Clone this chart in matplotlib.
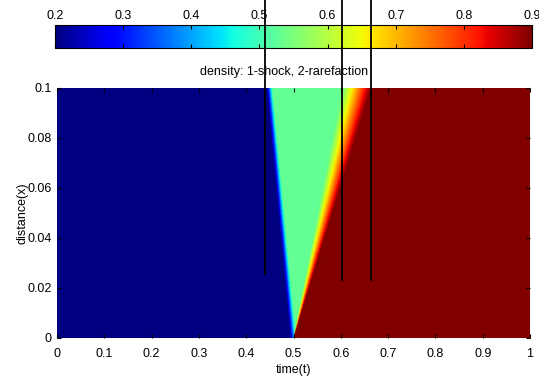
import numpy as np
import matplotlib
matplotlib.use("Agg")
import matplotlib.pyplot as plt
from matplotlib.lines import Line2D

plt.rcParams['font.family'] = ['Liberation Sans', 'DejaVu Sans']
plt.rcParams['font.size'] = 9

# states and wave speeds
rho_left = 0.2
rho_mid = 0.53
rho_right = 0.9
t_origin = 0.5
shock_slope = -0.5      # dt/dx of the 1-shock
fan_head_slope = 1.03   # dt/dx of the rarefaction head
fan_tail_slope = 1.65   # dt/dx of the rarefaction tail
shock_smear = 0.012

x_ticks = [0, 0.1, 0.2, 0.3, 0.4, 0.5, 0.6, 0.7, 0.8, 0.9, 1]
x_ticklabels = ['0', '0.1', '0.2', '0.3', '0.4', '0.5', '0.6', '0.7', '0.8', '0.9', '1']
y_ticks = [0, 0.02, 0.04, 0.06, 0.08, 0.1]
y_ticklabels = ['0', '0.02', '0.04', '0.06', '0.08', '0.1']
cbar_ticks = [0.2, 0.3, 0.4, 0.5, 0.6, 0.7, 0.8, 0.9]
cbar_ticklabels = ['0.2', '0.3', '0.4', '0.5', '0.6', '0.7', '0.8', '0.9']

marker_t = [0.44, 0.603, 0.664]
marker_bottom = [0.0256, 0.0232, 0.0232]

# density field
t = np.linspace(0, 1, 800)
x = np.linspace(0, 0.1, 300)
T, X = np.meshgrid(t, x)
ts = t_origin + shock_slope * X
th = t_origin + fan_head_slope * X
tt = t_origin + fan_tail_slope * X
rho = np.full_like(T, rho_right)
w = np.clip((T - ts) / shock_smear + 0.5, 0, 1)
rho_sh = rho_left + (rho_mid - rho_left) * w
mask_a = T < th
rho[mask_a] = rho_sh[mask_a]
frac = np.clip((T - th) / np.maximum(tt - th, 1e-9), 0, 1)
mask_f = (T >= th) & (T < tt)
rho[mask_f] = (rho_mid + (rho_right - rho_mid) * frac)[mask_f]

fig = plt.figure(figsize=(5.39, 3.78), dpi=100)
ax_l, ax_b, ax_w, ax_h = 57/539, 1-338/378, 473/539, 250/378
ax = fig.add_axes([ax_l, ax_b, ax_w, ax_h])
cax = fig.add_axes([55/539, 1-48/378, 477/539, 23/378])

mesh = ax.pcolormesh(t, x, rho, cmap='jet', vmin=0.2, vmax=0.9, shading='gouraud')
ax.set_xlim(0, 1)
ax.set_ylim(0, 0.1)
ax.set_xticks(x_ticks)
ax.set_xticklabels(x_ticklabels)
ax.set_yticks(y_ticks)
ax.set_yticklabels(y_ticklabels)
ax.tick_params(direction='in', length=3, top=True, right=True)
ax.tick_params(axis='x', pad=7)
ax.tick_params(axis='y', pad=4)
ax.set_xlabel('time(t)', labelpad=3)
ax.set_ylabel('distance(x)', labelpad=-1)
ax.set_title('density: 1-shock, 2-rarefaction', fontsize=9, pad=9, x=0.48)
for s in ax.spines.values():
    s.set_visible(False)

cb = fig.colorbar(mesh, cax=cax, orientation='horizontal', ticklocation='top')
cb.set_ticks(cbar_ticks)
cb.set_ticklabels(cbar_ticklabels)
cax.tick_params(direction='in', length=3, top=True, bottom=True,
                labeltop=True, labelbottom=False, pad=2)
cb.outline.set_linewidth(0.8)

# vertical marker lines running up through the colorbar
y_top = 0.1 + (1 - (ax_b + ax_h)) / ax_h * 0.1
for tm, yb in zip(marker_t, marker_bottom):
    fig.add_artist(Line2D([tm, tm], [yb, y_top], transform=ax.transData,
                          color='black', lw=1.3, clip_on=False, zorder=5))

fig.savefig('out.png', dpi=100)
